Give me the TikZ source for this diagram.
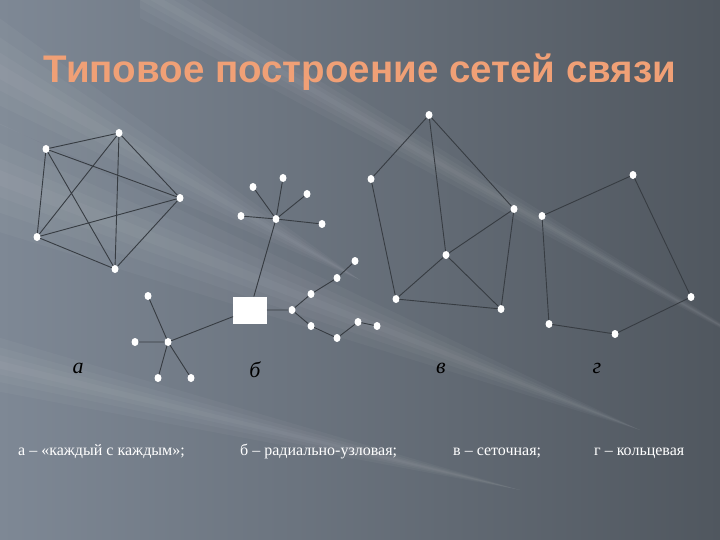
\documentclass[tikz,border=0pt]{standalone}
\usepackage{fontspec}
\usetikzlibrary{shapes.geometric}
\setmainfont{Liberation Serif}
\newfontfamily\titlefont{Liberation Sans}
\definecolor{bgleft}{RGB}{126,136,149}
\definecolor{bgright}{RGB}{80,87,95}
\definecolor{linkgray}{RGB}{55,60,66}
\definecolor{titleorange}{RGB}{240,160,118}
\begin{document}
\begin{tikzpicture}[x=1pt,y=-1pt,line join=round,line cap=round,
	pt/.style={draw=none,fill=white,ellipse,inner sep=0pt,minimum width=7pt,minimum height=8pt},
	link/.style={draw=linkgray,line width=.9pt},
	hub/.style={draw=none,fill=white,rectangle,inner sep=0pt,minimum width=34pt,minimum height=27pt},
	letter/.style={font=\fontsize{22}{24}\selectfont\itshape,text=black},
	caption/.style={font=\fontsize{16}{18}\selectfont,text=white,anchor=base west,inner sep=0pt},
	glow/.style={fill=white,opacity=.035}]
	\useasboundingbox (0,0) rectangle (720,540);
	\shade[left color=bgleft,right color=bgright] (0,0) rectangle (720,540);
	\foreach \w in {8,20,36,56}
		{\fill[glow] (-20,170-\w) -- (640,430) -- (-20,170+\w) -- cycle;
		\fill[glow] (-20,360-\w/2) -- (520,490) -- (-20,360+\w/2) -- cycle;
		\fill[glow] (140,-10-\w/2) -- (780,360) -- (140,-10+\w/2) -- cycle;
		\fill[glow] (-20,60-\w) -- (360,280) -- (-20,60+\w) -- cycle;}
	\node[font=\titlefont\bfseries\fontsize{38.5}{42}\selectfont,text=titleorange] (title) at (360,72) {Типовое построение сетей связи};
	\node[pt] (a1) at (119,133) {};
	\node[pt] (a2) at (46,149) {};
	\node[pt] (a3) at (180,198) {};
	\node[pt] (a4) at (37,237) {};
	\node[pt] (a5) at (115,269) {};
	\draw[link] (a1)--(a2) (a1)--(a3) (a1)--(a4) (a1)--(a5) (a2)--(a3) (a2)--(a4) (a2)--(a5) (a3)--(a4) (a3)--(a5) (a4)--(a5);
	\node[hub] (b0) at (250,310) {};
	\node[pt] (b1) at (276,219) {};
	\node[pt] (b11) at (253,187) {};
	\node[pt] (b12) at (283,178) {};
	\node[pt] (b13) at (307,194) {};
	\node[pt] (b14) at (241,216) {};
	\node[pt] (b15) at (322,224) {};
	\node[pt] (b2) at (168,342) {};
	\node[pt] (b21) at (148,296) {};
	\node[pt] (b22) at (135,342) {};
	\node[pt] (b23) at (158,378) {};
	\node[pt] (b24) at (191,378) {};
	\node[pt] (b3) at (292,310) {};
	\node[pt] (b31) at (311,294) {};
	\node[pt] (b32) at (337,278) {};
	\node[pt] (b33) at (355,261) {};
	\node[pt] (b34) at (311,326) {};
	\node[pt] (b35) at (337,338) {};
	\node[pt] (b36) at (358,322) {};
	\node[pt] (b37) at (377,326) {};
	\draw[link] (b0)--(b1) (b1)--(b11) (b1)--(b12) (b1)--(b13) (b1)--(b14) (b1)--(b15);
	\draw[link] (b0)--(b2) (b2)--(b21) (b2)--(b22) (b2)--(b23) (b2)--(b24);
	\draw[link] (b0)--(b3) (b3)--(b31)--(b32)--(b33) (b3)--(b34)--(b35)--(b36)--(b37);
	\node[pt] (v1) at (429,115) {};
	\node[pt] (v2) at (371,179) {};
	\node[pt] (v3) at (514,209) {};
	\node[pt] (v4) at (446,255) {};
	\node[pt] (v5) at (396,299) {};
	\node[pt] (v6) at (501,309) {};
	\draw[link] (v1)--(v2) (v1)--(v3) (v1)--(v4) (v2)--(v5) (v3)--(v4) (v3)--(v6) (v4)--(v5) (v4)--(v6) (v5)--(v6);
	\node[pt] (g1) at (633,175) {};
	\node[pt] (g2) at (542,216) {};
	\node[pt] (g3) at (691,297) {};
	\node[pt] (g4) at (549,324) {};
	\node[pt] (g5) at (615,334) {};
	\draw[link] (g2)--(g1)--(g3)--(g5)--(g4)--(g2);
	\node[letter] (la) at (78,368) {а};
	\node[letter] (lb) at (255,370) {б};
	\node[letter] (lv) at (441,368) {в};
	\node[letter] (lg) at (597,368) {г};
	\node[caption] (ca) at (18,455) {а – «каждый с каждым»;};
	\node[caption] (cb) at (240,455) {б – радиально-узловая;};
	\node[caption] (cv) at (453,455) {в – сеточная;};
	\node[caption] (cg) at (594,455) {г – кольцевая};
\end{tikzpicture}
\end{document}
